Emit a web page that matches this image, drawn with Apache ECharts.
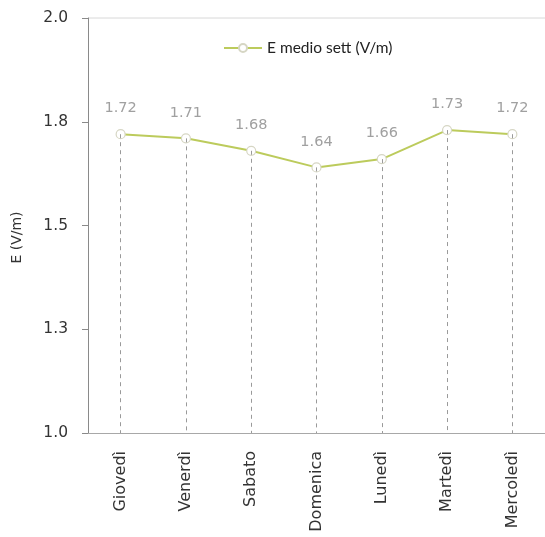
<!DOCTYPE html>
<html>
<head>
<meta charset="utf-8">
<script src="https://cdn.jsdelivr.net/npm/echarts@6/dist/echarts.min.js"></script>
<style>
  html, body { margin: 0; padding: 0; background: #fff; }
  #chart { width: 545px; height: 537px; }
</style>
</head>
<body>
<div id="chart"></div>
<script>
// Weekly mean electric field by day
const days = ['Giovedì', 'Venerdì', 'Sabato', 'Domenica', 'Lunedì', 'Martedì', 'Mercoledì'];
const eMedio = [1.72, 1.71, 1.68, 1.64, 1.66, 1.73, 1.72];
const yTickLabels = ['1.0', '1.3', '1.5', '1.8', '2.0'];
const yMin = 1.0, yMax = 2.0, yStep = 0.25;

const font = '"DejaVu Sans", sans-serif';
const legendFont = 'Lato, "Open Sans", sans-serif';

// dashed drop lines from each point down to the axis
const dropLines = eMedio.map((v, i) => [
  { coord: [i, v] },
  { coord: [i, yMin] }
]);

const chart = echarts.init(document.getElementById('chart'));
chart.setOption({
  animation: false,
  textStyle: { fontFamily: font },
  grid: { left: 88, right: -7, top: 18, bottom: 104 },
  legend: {
    top: 35,
    left: 218,
    itemWidth: 38,
    itemHeight: 10,
    itemGap: 8,
    textStyle: { fontFamily: legendFont, fontSize: 15.5, color: '#222' },
    data: ['E medio sett (V/m)']
  },
  xAxis: {
    type: 'category',
    data: days,
    boundaryGap: true,
    axisLine: { lineStyle: { color: '#a8a8a8' } },
    axisTick: { show: false },
    axisLabel: {
      rotate: 90,
      margin: 18,
      fontSize: 16,
      color: '#333',
      fontFamily: font
    }
  },
  yAxis: {
    type: 'value',
    min: yMin,
    max: yMax,
    interval: yStep,
    name: 'E (V/m)',
    nameLocation: 'middle',
    nameGap: 64,
    nameRotate: 90,
    nameTextStyle: { fontSize: 14, color: '#333', fontFamily: font, padding: [0, 24, 0, 0] },
    axisLine: { show: true, lineStyle: { color: '#8a8a8a' } },
    axisTick: { show: true, length: 6, lineStyle: { color: '#8a8a8a' } },
    axisLabel: {
      margin: 20,
      fontSize: 15.5,
      color: '#333',
      fontFamily: font,
      formatter: (v) => yTickLabels[Math.round((v - yMin) / yStep)]
    },
    splitLine: { show: false }
  },
  series: [{
    name: 'E medio sett (V/m)',
    type: 'line',
    data: eMedio,
    symbol: 'circle',
    symbolSize: 9,
    lineStyle: { color: '#bccb5c', width: 2 },
    itemStyle: { color: '#ffffff', borderColor: '#d6d6c4', borderWidth: 1.2 },
    label: {
      show: true,
      position: 'top',
      distance: 13,
      fontSize: 14.5,
      color: '#a0a0a0',
      fontFamily: font,
      formatter: (p) => p.value.toFixed(2)
    },
    markLine: {
      silent: true,
      symbol: 'none',
      label: { show: false },
      lineStyle: { color: '#9a9a9a', type: [4, 4], width: 1 },
      data: dropLines
    },
    z: 3
  }],
  graphic: [{
    type: 'line',
    shape: { x1: 88, y1: 18, x2: 545, y2: 18 },
    style: { stroke: '#d8d8d8', lineWidth: 1 }
  }]
});
</script>
</body>
</html>
